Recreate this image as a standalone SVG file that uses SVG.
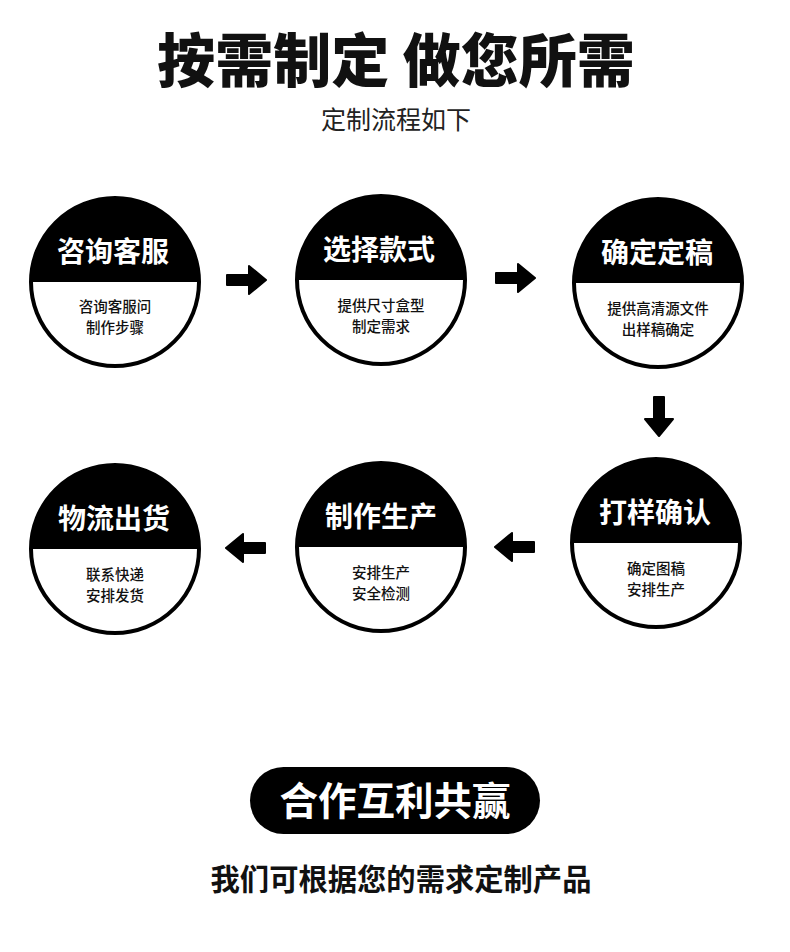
<svg xmlns="http://www.w3.org/2000/svg" width="790" height="952" viewBox="0 0 790 952">
<style>
text{font-family:"Noto Sans CJK SC","Noto Sans",sans-serif;text-anchor:middle}
.title{font-size:58px;font-weight:900;fill:#111}
.sub{font-size:25px;fill:#222}
.ring{fill:#fff;stroke:#000;stroke-width:4}
.top{fill:#000}
.ct{font-size:28px;font-weight:700;fill:#fff}
.cs{font-size:14.5px;font-weight:500;fill:#111}
.arrow{fill:#000}
.pill{fill:#000}
.pt{font-size:38.5px;font-weight:700;fill:#fff}
.bt{font-size:29.3px;font-weight:700;fill:#111}
</style>
<defs>
<path id="arR" d="M-19,-5 H3 V-14 L20,0 L3,14 V5 H-19 Z" stroke="#000" stroke-width="2" stroke-linejoin="round"/>
</defs>
<rect width="790" height="952" fill="#fff"/>
<text class="title" x="396" y="82">按需制定 做您所需</text>
<text class="sub" x="396" y="129">定制流程如下</text>

<g id="node1">
<circle class="ring" cx="115" cy="282" r="84"/>
<path class="top" d="M31,282 A84,84 0 0 1 199,282 Z"/>
<text class="ct" x="113" y="262">咨询客服</text>
<text class="cs" x="115" y="312">咨询客服问</text>
<text class="cs" x="115" y="333">制作步骤</text>
</g>
<g id="node2">
<circle class="ring" cx="381" cy="280" r="84"/>
<path class="top" d="M297,280 A84,84 0 0 1 465,280 Z"/>
<text class="ct" x="379" y="260">选择款式</text>
<text class="cs" x="381" y="311">提供尺寸盒型</text>
<text class="cs" x="381" y="332">制定需求</text>
</g>
<g id="node3">
<circle class="ring" cx="658" cy="283" r="84"/>
<path class="top" d="M574,283 A84,84 0 0 1 742,283 Z"/>
<text class="ct" x="657" y="263">确定定稿</text>
<text class="cs" x="658" y="314">提供高清源文件</text>
<text class="cs" x="658" y="335">出样稿确定</text>
</g>
<g id="node4">
<circle class="ring" cx="656" cy="543" r="84"/>
<path class="top" d="M572,543 A84,84 0 0 1 740,543 Z"/>
<text class="ct" x="655" y="523">打样确认</text>
<text class="cs" x="656" y="574">确定图稿</text>
<text class="cs" x="656" y="595">安排生产</text>
</g>
<g id="node5">
<circle class="ring" cx="381" cy="547" r="84"/>
<path class="top" d="M297,547 A84,84 0 0 1 465,547 Z"/>
<text class="ct" x="381" y="527">制作生产</text>
<text class="cs" x="381" y="578">安排生产</text>
<text class="cs" x="381" y="599">安全检测</text>
</g>
<g id="node6">
<circle class="ring" cx="115" cy="549" r="84"/>
<path class="top" d="M31,549 A84,84 0 0 1 199,549 Z"/>
<text class="ct" x="114" y="529">物流出货</text>
<text class="cs" x="115" y="580">联系快递</text>
<text class="cs" x="115" y="601">安排发货</text>
</g>

<g id="connectors" class="arrow">
<use href="#arR" transform="translate(246,280)"/>
<use href="#arR" transform="translate(515,278)"/>
<use href="#arR" transform="translate(659,416) rotate(90)"/>
<use href="#arR" transform="translate(515,547) rotate(180)"/>
<use href="#arR" transform="translate(246,548) rotate(180)"/>
</g>

<g id="pill">
<rect class="pill" x="250" y="767" width="290" height="67" rx="33.5"/>
<text class="pt" x="395" y="815">合作互利共赢</text>
</g>
<text class="bt" x="401" y="890">我们可根据您的需求定制产品</text>
</svg>
